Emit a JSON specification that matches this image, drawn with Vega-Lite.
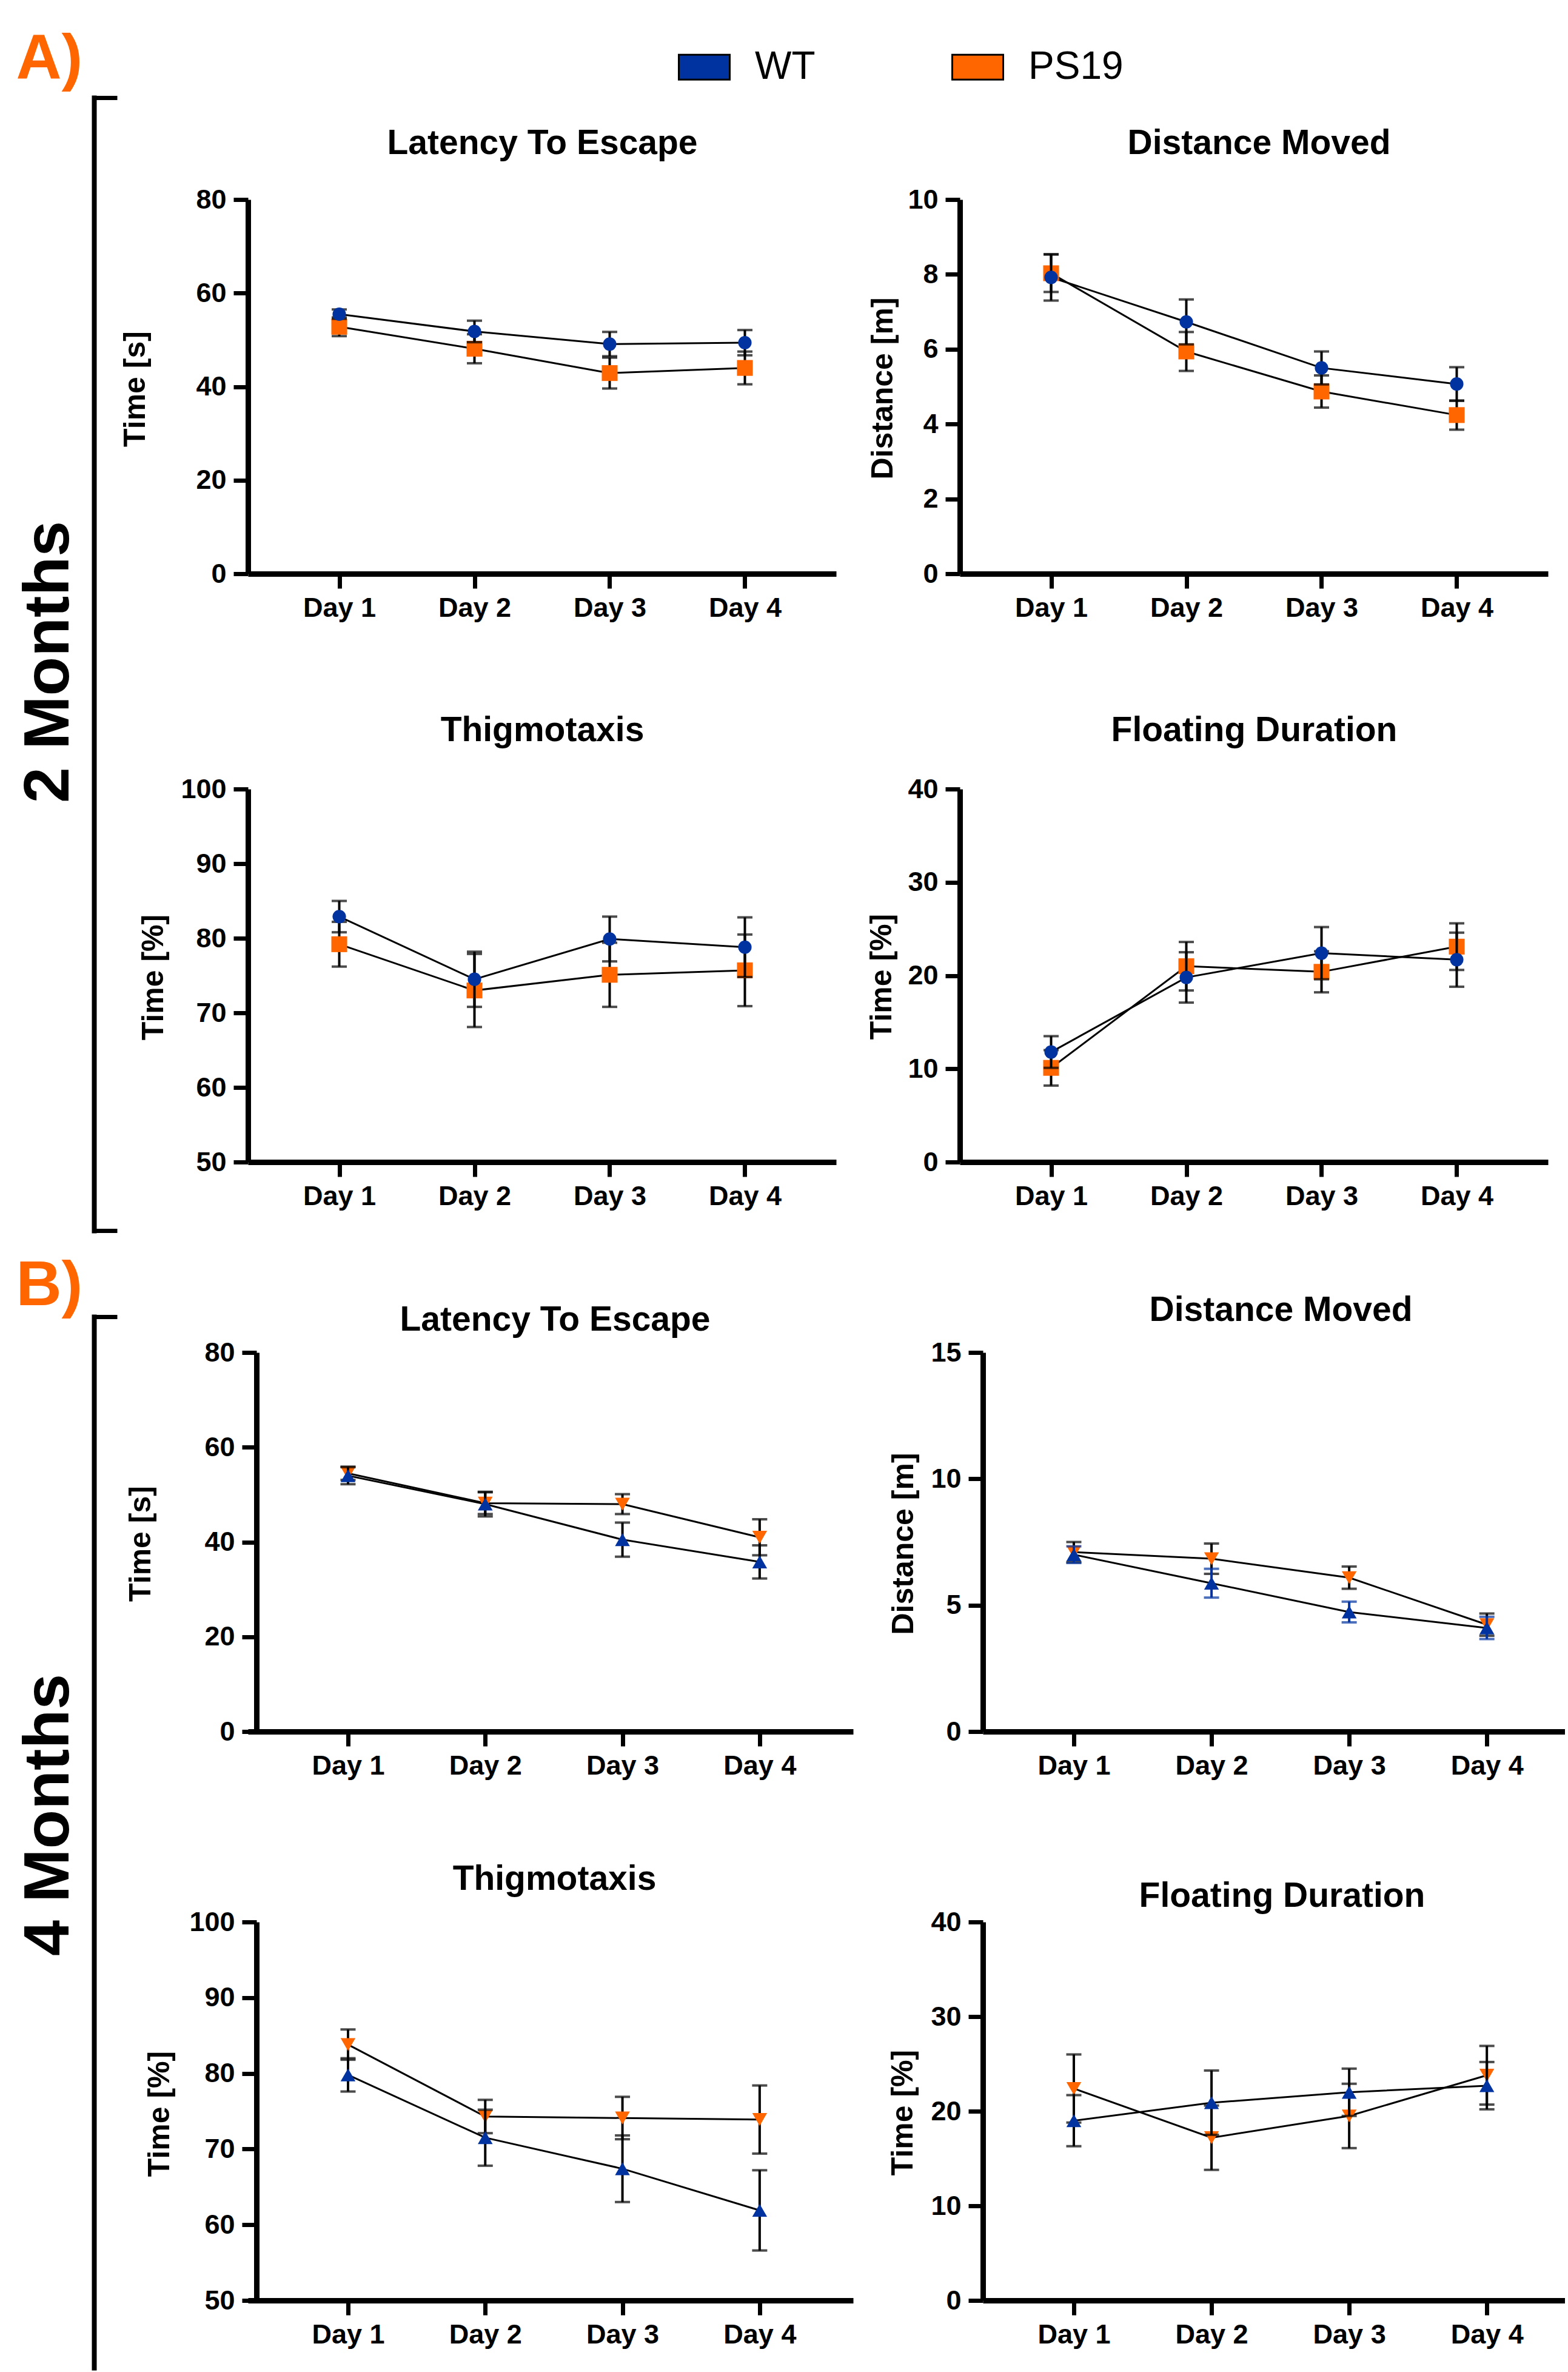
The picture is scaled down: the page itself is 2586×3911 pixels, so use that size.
{
"$schema": "https://vega.github.io/schema/vega-lite/v6.json",
"padding": {"left": 26, "top": 45, "right": 0, "bottom": 0},
"background": "white",
"spacing": -129,
"data": {"values": [
{"panel":"A1","group":"WT","day":"Day 1","mean":55.5,"sem":1.0},
{"panel":"A1","group":"WT","day":"Day 2","mean":51.8,"sem":2.3},
{"panel":"A1","group":"WT","day":"Day 3","mean":49.1,"sem":2.6},
{"panel":"A1","group":"WT","day":"Day 4","mean":49.4,"sem":2.7},
{"panel":"A1","group":"PS19","day":"Day 1","mean":52.8,"sem":2.0},
{"panel":"A1","group":"PS19","day":"Day 2","mean":48.1,"sem":3.1},
{"panel":"A1","group":"PS19","day":"Day 3","mean":42.9,"sem":3.3},
{"panel":"A1","group":"PS19","day":"Day 4","mean":44.0,"sem":3.5},
{"panel":"A2","group":"WT","day":"Day 1","mean":7.92,"sem":0.62},
{"panel":"A2","group":"WT","day":"Day 2","mean":6.73,"sem":0.60},
{"panel":"A2","group":"WT","day":"Day 3","mean":5.50,"sem":0.44},
{"panel":"A2","group":"WT","day":"Day 4","mean":5.07,"sem":0.45},
{"panel":"A2","group":"PS19","day":"Day 1","mean":8.03,"sem":0.50},
{"panel":"A2","group":"PS19","day":"Day 2","mean":5.94,"sem":0.52},
{"panel":"A2","group":"PS19","day":"Day 3","mean":4.87,"sem":0.43},
{"panel":"A2","group":"PS19","day":"Day 4","mean":4.24,"sem":0.39},
{"panel":"A3","group":"WT","day":"Day 1","mean":82.9,"sem":2.1},
{"panel":"A3","group":"WT","day":"Day 2","mean":74.5,"sem":3.7},
{"panel":"A3","group":"WT","day":"Day 3","mean":79.9,"sem":3.0},
{"panel":"A3","group":"WT","day":"Day 4","mean":78.8,"sem":4.0},
{"panel":"A3","group":"PS19","day":"Day 1","mean":79.2,"sem":3.0},
{"panel":"A3","group":"PS19","day":"Day 2","mean":73.0,"sem":4.9},
{"panel":"A3","group":"PS19","day":"Day 3","mean":75.1,"sem":4.3},
{"panel":"A3","group":"PS19","day":"Day 4","mean":75.7,"sem":4.8},
{"panel":"A4","group":"WT","day":"Day 1","mean":11.8,"sem":1.7},
{"panel":"A4","group":"WT","day":"Day 2","mean":19.8,"sem":2.7},
{"panel":"A4","group":"WT","day":"Day 3","mean":22.4,"sem":2.8},
{"panel":"A4","group":"WT","day":"Day 4","mean":21.7,"sem":2.9},
{"panel":"A4","group":"PS19","day":"Day 1","mean":10.1,"sem":1.9},
{"panel":"A4","group":"PS19","day":"Day 2","mean":21.0,"sem":2.6},
{"panel":"A4","group":"PS19","day":"Day 3","mean":20.4,"sem":2.2},
{"panel":"A4","group":"PS19","day":"Day 4","mean":23.1,"sem":2.5},
{"panel":"B1","group":"WT","day":"Day 1","mean":54.0,"sem":1.8},
{"panel":"B1","group":"WT","day":"Day 2","mean":48.0,"sem":2.6},
{"panel":"B1","group":"WT","day":"Day 3","mean":40.5,"sem":3.6},
{"panel":"B1","group":"WT","day":"Day 4","mean":35.8,"sem":3.5},
{"panel":"B1","group":"PS19","day":"Day 1","mean":54.5,"sem":1.4},
{"panel":"B1","group":"PS19","day":"Day 2","mean":48.2,"sem":2.3},
{"panel":"B1","group":"PS19","day":"Day 3","mean":48.0,"sem":2.1},
{"panel":"B1","group":"PS19","day":"Day 4","mean":41.0,"sem":3.8},
{"panel":"B2","group":"WT","day":"Day 1","mean":7.0,"sem":0.33},
{"panel":"B2","group":"WT","day":"Day 2","mean":5.87,"sem":0.57},
{"panel":"B2","group":"WT","day":"Day 3","mean":4.73,"sem":0.41},
{"panel":"B2","group":"WT","day":"Day 4","mean":4.10,"sem":0.44},
{"panel":"B2","group":"PS19","day":"Day 1","mean":7.1,"sem":0.4},
{"panel":"B2","group":"PS19","day":"Day 2","mean":6.84,"sem":0.6},
{"panel":"B2","group":"PS19","day":"Day 3","mean":6.09,"sem":0.44},
{"panel":"B2","group":"PS19","day":"Day 4","mean":4.23,"sem":0.44},
{"panel":"B3","group":"WT","day":"Day 1","mean":79.8,"sem":2.2},
{"panel":"B3","group":"WT","day":"Day 2","mean":71.5,"sem":3.7},
{"panel":"B3","group":"WT","day":"Day 3","mean":67.4,"sem":4.4},
{"panel":"B3","group":"WT","day":"Day 4","mean":61.9,"sem":5.3},
{"panel":"B3","group":"PS19","day":"Day 1","mean":83.8,"sem":2.0},
{"panel":"B3","group":"PS19","day":"Day 2","mean":74.3,"sem":2.2},
{"panel":"B3","group":"PS19","day":"Day 3","mean":74.1,"sem":2.8},
{"panel":"B3","group":"PS19","day":"Day 4","mean":73.9,"sem":4.5},
{"panel":"B4","group":"WT","day":"Day 1","mean":19.0,"sem":2.7},
{"panel":"B4","group":"WT","day":"Day 2","mean":20.9,"sem":3.4},
{"panel":"B4","group":"WT","day":"Day 3","mean":22.0,"sem":2.5},
{"panel":"B4","group":"WT","day":"Day 4","mean":22.7,"sem":2.5},
{"panel":"B4","group":"PS19","day":"Day 1","mean":22.4,"sem":3.6},
{"panel":"B4","group":"PS19","day":"Day 2","mean":17.2,"sem":3.4},
{"panel":"B4","group":"PS19","day":"Day 3","mean":19.5,"sem":3.4},
{"panel":"B4","group":"PS19","day":"Day 4","mean":23.8,"sem":3.1}
]},
"vconcat": [
{"bounds": "flush", "columns": 2, "spacing": {"row": 355, "column": 204},
 "concat": [
  {"width": 970, "height": 617,
   "resolve": {"scale": {"x": "independent", "y": "independent"}},
   "layer": [
    {"transform": [{"filter": "datum.panel === 'A1'"}],
     "encoding": {
      "x": {"field": "day", "type": "ordinal", "scale": {"type": "point", "padding": 0.675}, "title": "Latency To Escape", "axis": {"titleX": 485, "titleY": -693}},
      "y": {"field": "mean", "type": "quantitative", "title": "Time [s]", "scale": {"domain": [0, 80], "nice": false, "zero": false}, "axis": {"values": [0, 20, 40, 60, 80], "titleX": -186, "titleY": 312}}},
     "layer": [
      {"mark": {"type": "line", "color": "black", "strokeWidth": 3}, "encoding": {"detail": {"field": "group", "type": "nominal"}}},
      {"transform": [{"filter": "datum.group === 'PS19'"}], "mark": {"type": "errorbar", "ticks": true, "size": 25, "thickness": 4, "color": "black"}, "encoding": {"yError": {"field": "sem"}}},
      {"transform": [{"filter": "datum.group === 'PS19'"}], "mark": {"type": "point", "shape": "square", "filled": true, "size": 680, "opacity": 1}, "encoding": {"color": {"field": "group", "type": "nominal", "scale": {"domain": ["WT", "PS19"], "range": ["#0033a0", "#ff6600"]}, "legend": {"orient": "none", "legendX": 709, "legendY": -262, "direction": "horizontal", "title": null, "symbolType": "M-1,-0.49H1V0.49H-1Z", "symbolSize": 7056, "symbolStrokeColor": "black", "symbolStrokeWidth": 3, "symbolOpacity": 1, "labelFont": "Liberation Sans", "labelFontSize": 64, "labelFontWeight": "normal", "labelColor": "black", "labelOffset": 40, "columnPadding": 219, "padding": 0, "labelLimit": 400}}}},
      {"transform": [{"filter": "datum.group === 'WT'"}], "mark": {"type": "errorbar", "ticks": true, "size": 25, "thickness": 4, "color": "black"}, "encoding": {"yError": {"field": "sem"}}},
      {"transform": [{"filter": "datum.group === 'WT'"}], "mark": {"type": "point", "shape": "circle", "filled": true, "size": 490, "opacity": 1}, "encoding": {"color": {"field": "group", "type": "nominal", "scale": {"domain": ["WT", "PS19"], "range": ["#0033a0", "#ff6600"]}, "legend": {"orient": "none", "legendX": 709, "legendY": -262, "direction": "horizontal", "title": null, "symbolType": "M-1,-0.49H1V0.49H-1Z", "symbolSize": 7056, "symbolStrokeColor": "black", "symbolStrokeWidth": 3, "symbolOpacity": 1, "labelFont": "Liberation Sans", "labelFontSize": 64, "labelFontWeight": "normal", "labelColor": "black", "labelOffset": 40, "columnPadding": 219, "padding": 0, "labelLimit": 400}}}}
     ]},
    {"data": {"values": [{}]}, "mark": {"type": "point", "opacity": 0},
     "encoding": {
      "x": {"datum": 0, "type": "quantitative", "scale": {"domain": [0, 1]}, "axis": {"orient": "top", "domain": false, "ticks": false, "labels": false, "grid": false, "title": "A)", "titleX": -383, "titleY": -201, "titleAlign": "left", "titleBaseline": "alphabetic", "titleAngle": 0, "titleFontSize": 104, "titleColor": "#ff6600", "titleFontWeight": "bold"}},
      "y": {"datum": 1, "type": "quantitative", "scale": {"domain": [0, 1], "range": [1700, -168], "nice": false, "zero": false}, "axis": {"orient": "right", "offset": -1224, "values": [0, 1], "labels": false, "grid": false, "tickSize": 38, "tickWidth": 7, "domainWidth": 8, "domainCap": "square", "title": "2 Months", "titleX": -75, "titleY": 762, "titleAngle": 270, "titleFontSize": 106, "titleAlign": "center", "titleBaseline": "middle"}}}}
   ]},
  {"width": 970, "height": 617,
   "transform": [{"filter": "datum.panel === 'A2'"}],
   "encoding": {
    "x": {"field": "day", "type": "ordinal", "scale": {"type": "point", "padding": 0.675}, "title": "Distance Moved", "axis": {"titleX": 493, "titleY": -693}},
    "y": {"field": "mean", "type": "quantitative", "title": "Distance [m]", "scale": {"domain": [0, 10], "nice": false, "zero": false}, "axis": {"values": [0, 2, 4, 6, 8, 10], "titleX": -127, "titleY": 311}}},
   "layer": [
    {"mark": {"type": "line", "color": "black", "strokeWidth": 3}, "encoding": {"detail": {"field": "group", "type": "nominal"}}},
    {"transform": [{"filter": "datum.group === 'PS19'"}], "mark": {"type": "errorbar", "ticks": true, "size": 25, "thickness": 4, "color": "black"}, "encoding": {"yError": {"field": "sem"}}},
    {"transform": [{"filter": "datum.group === 'PS19'"}], "mark": {"type": "point", "shape": "square", "filled": true, "size": 680, "opacity": 1}, "encoding": {"color": {"field": "group", "type": "nominal", "scale": {"domain": ["WT", "PS19"], "range": ["#0033a0", "#ff6600"]}, "legend": {"orient": "none", "legendX": 709, "legendY": -262, "direction": "horizontal", "title": null, "symbolType": "M-1,-0.49H1V0.49H-1Z", "symbolSize": 7056, "symbolStrokeColor": "black", "symbolStrokeWidth": 3, "symbolOpacity": 1, "labelFont": "Liberation Sans", "labelFontSize": 64, "labelFontWeight": "normal", "labelColor": "black", "labelOffset": 40, "columnPadding": 219, "padding": 0, "labelLimit": 400}}}},
    {"transform": [{"filter": "datum.group === 'WT'"}], "mark": {"type": "errorbar", "ticks": true, "size": 25, "thickness": 4, "color": "black"}, "encoding": {"yError": {"field": "sem"}}},
    {"transform": [{"filter": "datum.group === 'WT'"}], "mark": {"type": "point", "shape": "circle", "filled": true, "size": 490, "opacity": 1}, "encoding": {"color": {"field": "group", "type": "nominal", "scale": {"domain": ["WT", "PS19"], "range": ["#0033a0", "#ff6600"]}, "legend": {"orient": "none", "legendX": 709, "legendY": -262, "direction": "horizontal", "title": null, "symbolType": "M-1,-0.49H1V0.49H-1Z", "symbolSize": 7056, "symbolStrokeColor": "black", "symbolStrokeWidth": 3, "symbolOpacity": 1, "labelFont": "Liberation Sans", "labelFontSize": 64, "labelFontWeight": "normal", "labelColor": "black", "labelOffset": 40, "columnPadding": 219, "padding": 0, "labelLimit": 400}}}}
   ]},
  {"width": 970, "height": 615,
   "transform": [{"filter": "datum.panel === 'A3'"}],
   "encoding": {
    "x": {"field": "day", "type": "ordinal", "scale": {"type": "point", "padding": 0.675}, "title": "Thigmotaxis", "axis": {"titleX": 485, "titleY": -695}},
    "y": {"field": "mean", "type": "quantitative", "title": "Time [%]", "scale": {"domain": [50, 100], "nice": false, "zero": false}, "axis": {"values": [50, 60, 70, 80, 90, 100], "titleX": -156, "titleY": 310}}},
   "layer": [
    {"mark": {"type": "line", "color": "black", "strokeWidth": 3}, "encoding": {"detail": {"field": "group", "type": "nominal"}}},
    {"transform": [{"filter": "datum.group === 'PS19'"}], "mark": {"type": "errorbar", "ticks": true, "size": 25, "thickness": 4, "color": "black"}, "encoding": {"yError": {"field": "sem"}}},
    {"transform": [{"filter": "datum.group === 'PS19'"}], "mark": {"type": "point", "shape": "square", "filled": true, "size": 680, "opacity": 1}, "encoding": {"color": {"field": "group", "type": "nominal", "scale": {"domain": ["WT", "PS19"], "range": ["#0033a0", "#ff6600"]}, "legend": {"orient": "none", "legendX": 709, "legendY": -262, "direction": "horizontal", "title": null, "symbolType": "M-1,-0.49H1V0.49H-1Z", "symbolSize": 7056, "symbolStrokeColor": "black", "symbolStrokeWidth": 3, "symbolOpacity": 1, "labelFont": "Liberation Sans", "labelFontSize": 64, "labelFontWeight": "normal", "labelColor": "black", "labelOffset": 40, "columnPadding": 219, "padding": 0, "labelLimit": 400}}}},
    {"transform": [{"filter": "datum.group === 'WT'"}], "mark": {"type": "errorbar", "ticks": true, "size": 25, "thickness": 4, "color": "black"}, "encoding": {"yError": {"field": "sem"}}},
    {"transform": [{"filter": "datum.group === 'WT'"}], "mark": {"type": "point", "shape": "circle", "filled": true, "size": 490, "opacity": 1}, "encoding": {"color": {"field": "group", "type": "nominal", "scale": {"domain": ["WT", "PS19"], "range": ["#0033a0", "#ff6600"]}, "legend": {"orient": "none", "legendX": 709, "legendY": -262, "direction": "horizontal", "title": null, "symbolType": "M-1,-0.49H1V0.49H-1Z", "symbolSize": 7056, "symbolStrokeColor": "black", "symbolStrokeWidth": 3, "symbolOpacity": 1, "labelFont": "Liberation Sans", "labelFontSize": 64, "labelFontWeight": "normal", "labelColor": "black", "labelOffset": 40, "columnPadding": 219, "padding": 0, "labelLimit": 400}}}}
   ]},
  {"width": 970, "height": 615,
   "transform": [{"filter": "datum.panel === 'A4'"}],
   "encoding": {
    "x": {"field": "day", "type": "ordinal", "scale": {"type": "point", "padding": 0.675}, "title": "Floating Duration", "axis": {"titleX": 485, "titleY": -695}},
    "y": {"field": "mean", "type": "quantitative", "title": "Time [%]", "scale": {"domain": [0, 40], "nice": false, "zero": false}, "axis": {"values": [0, 10, 20, 30, 40], "titleX": -129, "titleY": 309}}},
   "layer": [
    {"mark": {"type": "line", "color": "black", "strokeWidth": 3}, "encoding": {"detail": {"field": "group", "type": "nominal"}}},
    {"transform": [{"filter": "datum.group === 'PS19'"}], "mark": {"type": "errorbar", "ticks": true, "size": 25, "thickness": 4, "color": "black"}, "encoding": {"yError": {"field": "sem"}}},
    {"transform": [{"filter": "datum.group === 'PS19'"}], "mark": {"type": "point", "shape": "square", "filled": true, "size": 680, "opacity": 1}, "encoding": {"color": {"field": "group", "type": "nominal", "scale": {"domain": ["WT", "PS19"], "range": ["#0033a0", "#ff6600"]}, "legend": {"orient": "none", "legendX": 709, "legendY": -262, "direction": "horizontal", "title": null, "symbolType": "M-1,-0.49H1V0.49H-1Z", "symbolSize": 7056, "symbolStrokeColor": "black", "symbolStrokeWidth": 3, "symbolOpacity": 1, "labelFont": "Liberation Sans", "labelFontSize": 64, "labelFontWeight": "normal", "labelColor": "black", "labelOffset": 40, "columnPadding": 219, "padding": 0, "labelLimit": 400}}}},
    {"transform": [{"filter": "datum.group === 'WT'"}], "mark": {"type": "errorbar", "ticks": true, "size": 25, "thickness": 4, "color": "black"}, "encoding": {"yError": {"field": "sem"}}},
    {"transform": [{"filter": "datum.group === 'WT'"}], "mark": {"type": "point", "shape": "circle", "filled": true, "size": 490, "opacity": 1}, "encoding": {"color": {"field": "group", "type": "nominal", "scale": {"domain": ["WT", "PS19"], "range": ["#0033a0", "#ff6600"]}, "legend": {"orient": "none", "legendX": 709, "legendY": -262, "direction": "horizontal", "title": null, "symbolType": "M-1,-0.49H1V0.49H-1Z", "symbolSize": 7056, "symbolStrokeColor": "black", "symbolStrokeWidth": 3, "symbolOpacity": 1, "labelFont": "Liberation Sans", "labelFontSize": 64, "labelFontWeight": "normal", "labelColor": "black", "labelOffset": 40, "columnPadding": 219, "padding": 0, "labelLimit": 400}}}}
   ]}
 ]},
{"bounds": "flush", "columns": 2, "spacing": {"row": 314, "column": 214},
 "concat": [
  {"width": 998, "height": 625,
   "resolve": {"scale": {"x": "independent", "y": "independent"}},
   "layer": [
    {"transform": [{"filter": "datum.panel === 'B1'"}],
     "encoding": {
      "x": {"field": "day", "type": "ordinal", "scale": {"type": "point", "padding": 0.705, "align": 0.517}, "title": "Latency To Escape", "axis": {"titleX": 506, "titleY": -662}},
      "y": {"field": "mean", "type": "quantitative", "title": "Time [s]", "scale": {"domain": [0, 80], "nice": false, "zero": false}, "axis": {"offset": -14, "values": [0, 20, 40, 60, 80], "titleX": -191, "titleY": 315}}},
     "layer": [
      {"mark": {"type": "line", "color": "black", "strokeWidth": 3}, "encoding": {"detail": {"field": "group", "type": "nominal"}}},
      {"transform": [{"filter": "datum.group === 'PS19'"}], "mark": {"type": "errorbar", "ticks": true, "size": 25, "thickness": 4, "color": "black"}, "encoding": {"yError": {"field": "sem"}}},
      {"transform": [{"filter": "datum.group === 'PS19'"}], "mark": {"type": "point", "shape": "triangle-down", "filled": true, "size": 600, "opacity": 1}, "encoding": {"color": {"field": "group", "type": "nominal", "scale": {"domain": ["WT", "PS19"], "range": ["#0033a0", "#ff6600"]}, "legend": {"orient": "none", "legendX": 709, "legendY": -262, "direction": "horizontal", "title": null, "symbolType": "M-1,-0.49H1V0.49H-1Z", "symbolSize": 7056, "symbolStrokeColor": "black", "symbolStrokeWidth": 3, "symbolOpacity": 1, "labelFont": "Liberation Sans", "labelFontSize": 64, "labelFontWeight": "normal", "labelColor": "black", "labelOffset": 40, "columnPadding": 219, "padding": 0, "labelLimit": 400}}}},
      {"transform": [{"filter": "datum.group === 'WT'"}], "mark": {"type": "errorbar", "ticks": true, "size": 25, "thickness": 4, "color": "black"}, "encoding": {"yError": {"field": "sem"}}},
      {"transform": [{"filter": "datum.group === 'WT'"}], "mark": {"type": "point", "shape": "triangle-up", "filled": true, "size": 600, "opacity": 1}, "encoding": {"color": {"field": "group", "type": "nominal", "scale": {"domain": ["WT", "PS19"], "range": ["#0033a0", "#ff6600"]}, "legend": {"orient": "none", "legendX": 709, "legendY": -262, "direction": "horizontal", "title": null, "symbolType": "M-1,-0.49H1V0.49H-1Z", "symbolSize": 7056, "symbolStrokeColor": "black", "symbolStrokeWidth": 3, "symbolOpacity": 1, "labelFont": "Liberation Sans", "labelFontSize": 64, "labelFontWeight": "normal", "labelColor": "black", "labelOffset": 40, "columnPadding": 219, "padding": 0, "labelLimit": 400}}}}
     ]},
    {"data": {"values": [{}]}, "mark": {"type": "point", "opacity": 0},
     "encoding": {
      "x": {"datum": 0, "type": "quantitative", "scale": {"domain": [0, 1]}, "axis": {"orient": "top", "domain": false, "ticks": false, "labels": false, "grid": false, "title": "B)", "titleX": -383, "titleY": -79, "titleAlign": "left", "titleBaseline": "alphabetic", "titleAngle": 0, "titleFontSize": 104, "titleColor": "#ff6600", "titleFontWeight": "bold"}},
      "y": {"datum": 1, "type": "quantitative", "scale": {"domain": [0, 1], "range": [1674, -59], "nice": false, "zero": false}, "axis": {"orient": "right", "offset": -1252, "values": [1], "labels": false, "grid": false, "tickSize": 38, "tickWidth": 7, "domainWidth": 8, "domainCap": "square", "title": "4 Months", "titleX": -75, "titleY": 762, "titleAngle": 270, "titleFontSize": 106, "titleAlign": "center", "titleBaseline": "middle"}}}}
   ]},
  {"width": 960, "height": 625,
   "transform": [{"filter": "datum.panel === 'B2'"}],
   "encoding": {
    "x": {"field": "day", "type": "ordinal", "scale": {"type": "point", "padding": 0.614, "align": 0.538}, "title": "Distance Moved", "axis": {"titleX": 491, "titleY": -678}},
    "y": {"field": "mean", "type": "quantitative", "title": "Distance [m]", "scale": {"domain": [0, 15], "nice": false, "zero": false}, "axis": {"values": [0, 5, 10, 15], "titleX": -131, "titleY": 315}}},
   "layer": [
    {"mark": {"type": "line", "color": "black", "strokeWidth": 3}, "encoding": {"detail": {"field": "group", "type": "nominal"}}},
    {"transform": [{"filter": "datum.group === 'PS19'"}], "mark": {"type": "errorbar", "ticks": true, "size": 25, "thickness": 4, "color": "black"}, "encoding": {"yError": {"field": "sem"}}},
    {"transform": [{"filter": "datum.group === 'PS19'"}], "mark": {"type": "point", "shape": "triangle-down", "filled": true, "size": 600, "opacity": 1}, "encoding": {"color": {"field": "group", "type": "nominal", "scale": {"domain": ["WT", "PS19"], "range": ["#0033a0", "#ff6600"]}, "legend": {"orient": "none", "legendX": 709, "legendY": -262, "direction": "horizontal", "title": null, "symbolType": "M-1,-0.49H1V0.49H-1Z", "symbolSize": 7056, "symbolStrokeColor": "black", "symbolStrokeWidth": 3, "symbolOpacity": 1, "labelFont": "Liberation Sans", "labelFontSize": 64, "labelFontWeight": "normal", "labelColor": "black", "labelOffset": 40, "columnPadding": 219, "padding": 0, "labelLimit": 400}}}},
    {"transform": [{"filter": "datum.group === 'WT'"}], "mark": {"type": "errorbar", "ticks": true, "size": 25, "thickness": 4, "color": "#0033a0"}, "encoding": {"yError": {"field": "sem"}}},
    {"transform": [{"filter": "datum.group === 'WT'"}], "mark": {"type": "point", "shape": "triangle-up", "filled": true, "size": 600, "opacity": 1}, "encoding": {"color": {"field": "group", "type": "nominal", "scale": {"domain": ["WT", "PS19"], "range": ["#0033a0", "#ff6600"]}, "legend": {"orient": "none", "legendX": 709, "legendY": -262, "direction": "horizontal", "title": null, "symbolType": "M-1,-0.49H1V0.49H-1Z", "symbolSize": 7056, "symbolStrokeColor": "black", "symbolStrokeWidth": 3, "symbolOpacity": 1, "labelFont": "Liberation Sans", "labelFontSize": 64, "labelFontWeight": "normal", "labelColor": "black", "labelOffset": 40, "columnPadding": 219, "padding": 0, "labelLimit": 400}}}}
   ]},
  {"width": 998, "height": 624,
   "transform": [{"filter": "datum.panel === 'B3'"}],
   "encoding": {
    "x": {"field": "day", "type": "ordinal", "scale": {"type": "point", "padding": 0.705, "align": 0.517}, "title": "Thigmotaxis", "axis": {"titleX": 505, "titleY": -678}},
    "y": {"field": "mean", "type": "quantitative", "title": "Time [%]", "scale": {"domain": [50, 100], "nice": false, "zero": false}, "axis": {"offset": -14, "values": [50, 60, 70, 80, 90, 100], "titleX": -160, "titleY": 316}}},
   "layer": [
    {"mark": {"type": "line", "color": "black", "strokeWidth": 3}, "encoding": {"detail": {"field": "group", "type": "nominal"}}},
    {"transform": [{"filter": "datum.group === 'PS19'"}], "mark": {"type": "errorbar", "ticks": true, "size": 25, "thickness": 4, "color": "black"}, "encoding": {"yError": {"field": "sem"}}},
    {"transform": [{"filter": "datum.group === 'PS19'"}], "mark": {"type": "point", "shape": "triangle-down", "filled": true, "size": 600, "opacity": 1}, "encoding": {"color": {"field": "group", "type": "nominal", "scale": {"domain": ["WT", "PS19"], "range": ["#0033a0", "#ff6600"]}, "legend": {"orient": "none", "legendX": 709, "legendY": -262, "direction": "horizontal", "title": null, "symbolType": "M-1,-0.49H1V0.49H-1Z", "symbolSize": 7056, "symbolStrokeColor": "black", "symbolStrokeWidth": 3, "symbolOpacity": 1, "labelFont": "Liberation Sans", "labelFontSize": 64, "labelFontWeight": "normal", "labelColor": "black", "labelOffset": 40, "columnPadding": 219, "padding": 0, "labelLimit": 400}}}},
    {"transform": [{"filter": "datum.group === 'WT'"}], "mark": {"type": "errorbar", "ticks": true, "size": 25, "thickness": 4, "color": "black"}, "encoding": {"yError": {"field": "sem"}}},
    {"transform": [{"filter": "datum.group === 'WT'"}], "mark": {"type": "point", "shape": "triangle-up", "filled": true, "size": 600, "opacity": 1}, "encoding": {"color": {"field": "group", "type": "nominal", "scale": {"domain": ["WT", "PS19"], "range": ["#0033a0", "#ff6600"]}, "legend": {"orient": "none", "legendX": 709, "legendY": -262, "direction": "horizontal", "title": null, "symbolType": "M-1,-0.49H1V0.49H-1Z", "symbolSize": 7056, "symbolStrokeColor": "black", "symbolStrokeWidth": 3, "symbolOpacity": 1, "labelFont": "Liberation Sans", "labelFontSize": 64, "labelFontWeight": "normal", "labelColor": "black", "labelOffset": 40, "columnPadding": 219, "padding": 0, "labelLimit": 400}}}}
   ]},
  {"width": 960, "height": 624,
   "transform": [{"filter": "datum.panel === 'B4'"}],
   "encoding": {
    "x": {"field": "day", "type": "ordinal", "scale": {"type": "point", "padding": 0.614, "align": 0.538}, "title": "Floating Duration", "axis": {"titleX": 493, "titleY": -650}},
    "y": {"field": "mean", "type": "quantitative", "title": "Time [%]", "scale": {"domain": [0, 40], "nice": false, "zero": false}, "axis": {"values": [0, 10, 20, 30, 40], "titleX": -132, "titleY": 314}}},
   "layer": [
    {"mark": {"type": "line", "color": "black", "strokeWidth": 3}, "encoding": {"detail": {"field": "group", "type": "nominal"}}},
    {"transform": [{"filter": "datum.group === 'PS19'"}], "mark": {"type": "errorbar", "ticks": true, "size": 25, "thickness": 4, "color": "black"}, "encoding": {"yError": {"field": "sem"}}},
    {"transform": [{"filter": "datum.group === 'PS19'"}], "mark": {"type": "point", "shape": "triangle-down", "filled": true, "size": 600, "opacity": 1}, "encoding": {"color": {"field": "group", "type": "nominal", "scale": {"domain": ["WT", "PS19"], "range": ["#0033a0", "#ff6600"]}, "legend": {"orient": "none", "legendX": 709, "legendY": -262, "direction": "horizontal", "title": null, "symbolType": "M-1,-0.49H1V0.49H-1Z", "symbolSize": 7056, "symbolStrokeColor": "black", "symbolStrokeWidth": 3, "symbolOpacity": 1, "labelFont": "Liberation Sans", "labelFontSize": 64, "labelFontWeight": "normal", "labelColor": "black", "labelOffset": 40, "columnPadding": 219, "padding": 0, "labelLimit": 400}}}},
    {"transform": [{"filter": "datum.group === 'WT'"}], "mark": {"type": "errorbar", "ticks": true, "size": 25, "thickness": 4, "color": "black"}, "encoding": {"yError": {"field": "sem"}}},
    {"transform": [{"filter": "datum.group === 'WT'"}], "mark": {"type": "point", "shape": "triangle-up", "filled": true, "size": 600, "opacity": 1}, "encoding": {"color": {"field": "group", "type": "nominal", "scale": {"domain": ["WT", "PS19"], "range": ["#0033a0", "#ff6600"]}, "legend": {"orient": "none", "legendX": 709, "legendY": -262, "direction": "horizontal", "title": null, "symbolType": "M-1,-0.49H1V0.49H-1Z", "symbolSize": 7056, "symbolStrokeColor": "black", "symbolStrokeWidth": 3, "symbolOpacity": 1, "labelFont": "Liberation Sans", "labelFontSize": 64, "labelFontWeight": "normal", "labelColor": "black", "labelOffset": 40, "columnPadding": 219, "padding": 0, "labelLimit": 400}}}}
   ]}
 ]}
],
"config": {
 "font": "Liberation Sans",
 "view": {"stroke": null},
 "axis": {"domainColor": "black", "domainWidth": 9, "tickColor": "black", "tickWidth": 7, "tickSize": 24, "labelFont": "Liberation Sans", "labelFontSize": 45, "labelFontWeight": "bold", "labelColor": "black", "titleFont": "Liberation Sans", "titleFontSize": 50, "titleFontWeight": "bold", "titleColor": "black", "grid": false, "labelPadding": 12},
 "axisX": {"labelAngle": 0, "labelPadding": 10, "titleFontSize": 57, "titleAlign": "center", "titleBaseline": "alphabetic", "titleAngle": 0},
 "axisY": {"titleAngle": 270, "titleAlign": "center", "titleBaseline": "middle"}
}
}
